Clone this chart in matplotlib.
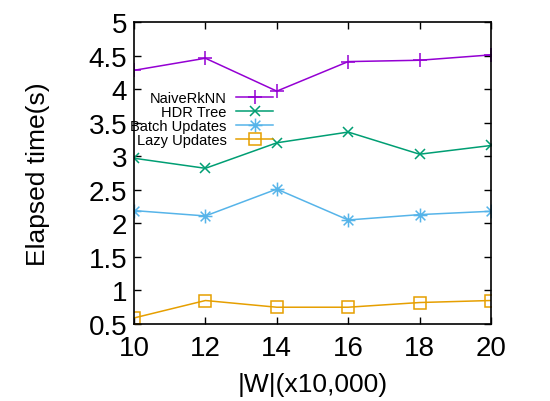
import matplotlib
matplotlib.use("Agg")
import matplotlib.pyplot as plt
from matplotlib.path import Path

plt.rcParams['font.family'] = ['Liberation Sans', 'DejaVu Sans']

# data
w_sizes = [10, 12, 14, 16, 18, 20]
naive_rknn = [4.28, 4.46, 3.97, 4.41, 4.43, 4.51]
hdr_tree = [2.97, 2.82, 3.20, 3.36, 3.03, 3.16]
batch_updates = [2.19, 2.11, 2.51, 2.05, 2.13, 2.18]
lazy_updates = [0.59, 0.85, 0.75, 0.75, 0.82, 0.85]

# gnuplot style asterisk: a plus and a cross together
star = Path([(-1, 0), (1, 0), (0, -1), (0, 1),
             (-0.7, -0.7), (0.7, 0.7), (-0.7, 0.7), (0.7, -0.7)],
            [Path.MOVETO, Path.LINETO] * 4)

fig = plt.figure(figsize=(5.5, 4.02), dpi=100)
ax = fig.add_axes([134 / 550, 1 - 325 / 402, (491 - 134) / 550, (325 - 23) / 402])

ax.plot(w_sizes, naive_rknn, color='#9400d3', marker='+', ms=10, mew=1.1, lw=1.1, label='NaiveRkNN')
ax.plot(w_sizes, hdr_tree, color='#009e73', marker='x', ms=7, mew=1.1, lw=1.1, label='HDR Tree')
ax.plot(w_sizes, batch_updates, color='#56b4e9', marker=star, ms=10, mew=1.1, lw=1.1, label='Batch Updates')
ax.plot(w_sizes, lazy_updates, color='#e69f00', marker='s', ms=8, mew=1.1, mfc='none', lw=1.1, label='Lazy Updates')

ax.set_xlim(10, 20)
ax.set_ylim(0.5, 5)
ax.set_xticks(w_sizes)
ax.set_yticks([0.5, 1, 1.5, 2, 2.5, 3, 3.5, 4, 4.5, 5])
ax.set_yticklabels(['0.5', '1', '1.5', '2', '2.5', '3', '3.5', '4', '4.5', '5'])
ax.tick_params(direction='in', length=5, width=1, top=True, right=True, labelsize=20, pad=5)
ax.tick_params(axis='x', pad=8)
for s in ax.spines.values():
    s.set_linewidth(1.2)

ax.set_xlabel('|W|(x10,000)', fontsize=19, labelpad=8)
ax.set_ylabel('Elapsed time(s)', fontsize=19, labelpad=28)

leg = ax.legend(loc='upper left', bbox_to_anchor=(-0.01, 0.77), markerfirst=False,
                frameon=False, fontsize=10.5, handlelength=2.6, handletextpad=0.6,
                labelspacing=0.0, borderpad=0, borderaxespad=0)

fig.savefig('out.png', dpi=100)
